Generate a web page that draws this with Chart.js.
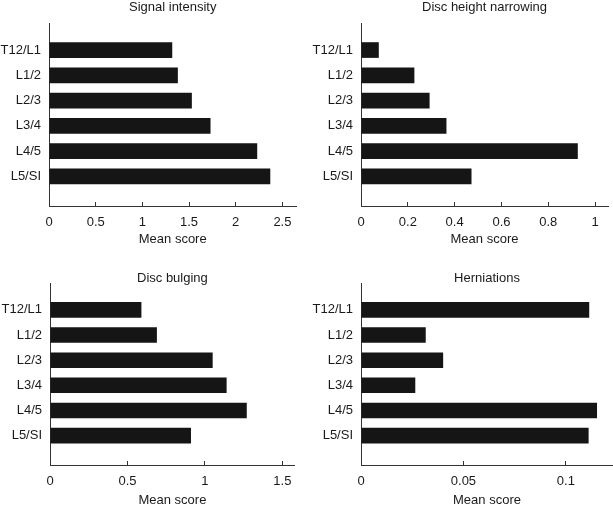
<!DOCTYPE html>
<html>
<head>
<meta charset="utf-8">
<script src="https://cdn.jsdelivr.net/npm/chart.js@4.4.1/dist/chart.umd.min.js"></script>
<style>
  body { margin: 0; background: #fff; }
  #wrap { position: relative; width: 613px; height: 507px; }
  canvas { position: absolute; }
</style>
</head>
<body>
<div id="wrap">
  <canvas id="c1" width="306" height="260" style="left:0;top:0"></canvas>
  <canvas id="c2" width="307" height="260" style="left:306px;top:0"></canvas>
  <canvas id="c3" width="306" height="247" style="left:0;top:260px"></canvas>
  <canvas id="c4" width="307" height="247" style="left:306px;top:260px"></canvas>
</div>
<script>
// spinal levels, top to bottom
const levels = ['T12/L1', 'L1/2', 'L2/3', 'L3/4', 'L4/5', 'L5/SI'];

// mean scores per level
const signalIntensity = [1.32, 1.38, 1.53, 1.73, 2.23, 2.37];
const discHeightNarrowing = [0.076, 0.228, 0.293, 0.365, 0.926, 0.472];
const discBulging = [0.59, 0.69, 1.05, 1.14, 1.27, 0.91];
const herniations = [0.1114, 0.0316, 0.0401, 0.0265, 0.1152, 0.1111];

// x tick labels
const signalTicks = [0, 0.5, 1, 1.5, 2, 2.5];
const narrowingTicks = [0, 0.2, 0.4, 0.6, 0.8, 1];
const bulgingTicks = [0, 0.5, 1, 1.5];
const herniationTicks = [0, 0.05, 0.1];

const ink = '#1a1a1a';
const axisColor = '#333';
const font = { family: 'Liberation Sans, Arial, Helvetica, sans-serif', size: 13, lineHeight: 1 };

function makePanel(id, title, values, ticks, xMax, opts) {
  const ctx = document.getElementById(id).getContext('2d');
  return new Chart(ctx, {
    type: 'bar',
    data: {
      datasets: [{
        data: values.map((v, i) => ({ x: v, y: i })),
        backgroundColor: '#151515',
        borderWidth: 0,
        categoryPercentage: 1,
        barPercentage: 0.62,
      }],
    },
    options: {
      indexAxis: 'y',
      responsive: false,
      animation: false,
      layout: { padding: { left: 0, right: opts.right, top: 0, bottom: 0 } },
      plugins: {
        legend: { display: false },
        tooltip: { enabled: false },
        title: {
          display: true,
          text: title,
          fullSize: false,
          color: ink,
          font: { ...font, weight: 'normal' },
          padding: { top: opts.titleTop, bottom: opts.titleBottom },
        },
      },
      scales: {
        x: {
          type: 'linear',
          min: 0,
          max: xMax,
          afterBuildTicks: scale => { scale.ticks = ticks.map(v => ({ value: v })); },
          afterFit: scale => { scale.height = opts.xHeight; },
          grid: { drawOnChartArea: false, tickLength: -4, color: axisColor, lineWidth: 1 },
          border: { display: true, color: axisColor, width: 1 },
          ticks: { color: ink, font: font, padding: 14, maxRotation: 0, callback: v => String(v) },
          title: {
            display: true,
            text: 'Mean score',
            color: ink,
            font: font,
            padding: { top: 0, bottom: opts.xTitleBottom },
          },
        },
        y: {
          type: 'linear',
          reverse: true,
          offset: false,
          bounds: 'data',
          min: -1.07,
          max: 6.17,
          afterBuildTicks: scale => { scale.ticks = levels.map((l, i) => ({ value: i })); },
          afterFit: scale => { scale.width = opts.yWidth; },
          grid: { display: false, drawTicks: false, offset: false },
          border: { display: true, color: axisColor, width: 1 },
          ticks: { color: ink, font: font, padding: 8, callback: v => levels[v] },
        },
      },
    },
  });
}

makePanel('c1', 'Signal intensity', signalIntensity, signalTicks, 2.65,
  { right: 7, yWidth: 49, xHeight: 54, titleTop: 1, titleBottom: 9, xTitleBottom: 14.5 });
makePanel('c2', 'Disc height narrowing', discHeightNarrowing, narrowingTicks, 1.055,
  { right: 0, yWidth: 55, xHeight: 54, titleTop: 1, titleBottom: 9, xTitleBottom: 14.5 });
makePanel('c3', 'Disc bulging', discBulging, bulgingTicks, 1.58,
  { right: 7, yWidth: 50, xHeight: 42, titleTop: 11.5, titleBottom: -1.5, xTitleBottom: 0 });
makePanel('c4', 'Herniations', herniations, herniationTicks, 0.123,
  { right: 0, yWidth: 55, xHeight: 42, titleTop: 11.5, titleBottom: -1.5, xTitleBottom: 0 });
</script>
</body>
</html>
